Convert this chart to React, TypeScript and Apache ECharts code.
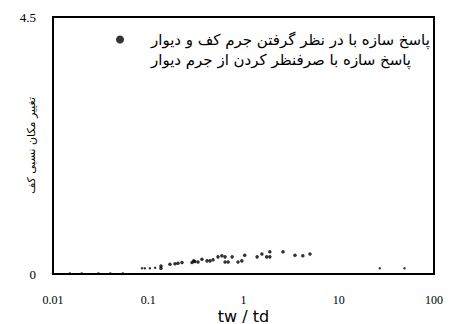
import React, { useEffect, useRef } from "react";
import * as echarts from "echarts";

const xTickLabels = ["0.01", "0.1", "1", "10", "100"];
const yTickLabels = ["0", "4.5"];

const legendNames = [
  "پاسخ سازه با در نظر گرفتن جرم کف و دیوار",
  "پاسخ سازه با صرفنظر کردن از جرم دیوار",
];

// Series 1: response including slab and wall mass
const s1X = [0.136, 0.136, 0.169, 0.191, 0.205, 0.226, 0.288, 0.3, 0.309, 0.333, 0.366, 0.414, 0.445, 0.479, 0.54, 0.593, 0.64, 0.64, 0.69, 0.76, 0.875, 0.96, 1.03, 1.39, 1.56, 1.75, 1.89, 1.89, 2.6, 3.47, 4.2, 4.99];
const s1Y = [0.14, 0.1, 0.17, 0.18, 0.19, 0.2, 0.2, 0.23, 0.22, 0.21, 0.26, 0.23, 0.23, 0.25, 0.3, 0.32, 0.3, 0.21, 0.21, 0.3, 0.21, 0.23, 0.33, 0.3, 0.35, 0.3, 0.39, 0.3, 0.39, 0.33, 0.32, 0.35];

// Series 2: response neglecting wall mass
const s2X = [0.01, 0.015, 0.02, 0.03, 0.04, 0.054, 0.086, 0.092, 0.104, 0.118, 27, 49];
const s2Y = [0.01, 0.01, 0.01, 0.01, 0.01, 0.01, 0.1, 0.1, 0.1, 0.11, 0.1, 0.1];

const yAxisTitle = "تغییر مکان نسبی کف";
const xAxisTitle = "tw / td";

export default function App() {
  const ref = useRef<HTMLDivElement>(null);
  useEffect(() => {
    if (!ref.current) return;
    const chart = echarts.init(ref.current, null, { renderer: "svg" });
    const s1 = s1X.map((x, i) => [x, s1Y[i]]);
    const s2 = s2X.map((x, i) => [x, s2Y[i]]);
    chart.setOption({
      animation: false,
      backgroundColor: "#ffffff",
      grid: {
        left: 53,
        right: 16,
        top: 17,
        bottom: 50,
        show: true,
        borderColor: "#000",
        borderWidth: 2,
        containLabel: false,
        outerBoundsMode: "none",
      },
      legend: {
        orient: "vertical",
        left: 111,
        top: 27,
        itemGap: 5,
        itemWidth: 8,
        itemHeight: 8,
        data: [
          { name: legendNames[0], icon: "circle" },
          { name: legendNames[1], icon: "none" },
        ],
        textStyle: {
          fontFamily: "DejaVu Sans",
          fontSize: 15,
          color: "#000",
          padding: [0, 0, 0, 22],
        },
      },
      xAxis: {
        type: "log",
        logBase: 10,
        min: 0.01,
        max: 100,
        name: xAxisTitle,
        nameLocation: "middle",
        nameGap: 34,
        nameMoveOverlap: false,
        nameTextStyle: {
          fontFamily: "DejaVu Sans",
          fontSize: 16,
          lineHeight: 16,
          color: "#000",
        },
        axisLine: { show: true, lineStyle: { color: "#000", width: 2 } },
        axisTick: { show: false },
        splitLine: { show: false },
        axisLabel: {
          margin: 19,
          fontFamily: "Liberation Serif",
          fontSize: 12,
          lineHeight: 13,
          color: "#000",
          formatter: (v: number) => {
            const idx = Math.round(Math.log10(v)) + 2;
            return xTickLabels[idx] ?? "";
          },
        },
      },
      yAxis: {
        type: "value",
        min: 0,
        max: 4.5,
        interval: 4.5,
        name: yAxisTitle,
        nameLocation: "middle",
        nameGap: 16,
        nameMoveOverlap: false,
        nameRotate: 90,
        nameTextStyle: { fontFamily: "DejaVu Sans", fontSize: 11, color: "#000" },
        axisLine: { show: true, lineStyle: { color: "#000", width: 2 } },
        axisTick: { show: false },
        splitLine: { show: false },
        axisLabel: {
          margin: 17,
          fontFamily: "Liberation Serif",
          fontSize: 13,
          color: "#000",
          formatter: (v: number) => (v === 0 ? yTickLabels[0] : yTickLabels[1]),
        },
      },
      series: [
        {
          name: legendNames[0],
          type: "scatter",
          data: s1,
          symbol: "circle",
          symbolSize: 3.5,
          itemStyle: { color: "#000" },
        },
        {
          name: legendNames[1],
          type: "scatter",
          data: s2,
          symbol: "circle",
          symbolSize: 2.5,
          itemStyle: { color: "#000" },
        },
      ],
    });
    return () => chart.dispose();
  }, []);
  return (
    <div
      ref={ref}
      style={{ position: "absolute", left: 0, top: 0, width: 450, height: 324 }}
    />
  );
}
